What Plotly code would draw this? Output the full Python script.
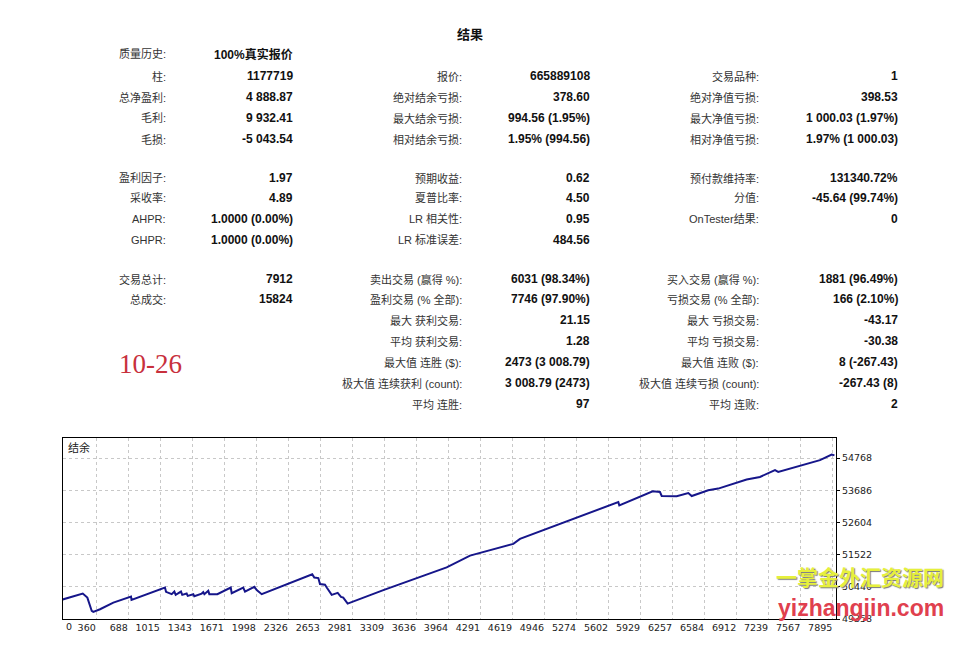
import plotly.graph_objects as go

# ---------------- data ----------------
trades = [0, 222, 269, 289, 314, 330, 399, 535, 716, 721, 1063, 1074, 1132, 1159, 1173,
          1227, 1240, 1285, 1296, 1353, 1363, 1439, 1455, 1466, 1506, 1517, 1599, 1736,
          1746, 1864, 1882, 1977, 2002, 2053, 2570, 2591, 2632, 2649, 2700, 2718, 2769,
          2830, 2864, 2887, 2932, 3297, 3621, 3945, 4184, 4627, 4695, 4968, 5275, 5582,
          5701, 5711, 5854, 6008, 6053, 6127, 6145, 6298, 6417, 6452, 6621, 6723, 7014,
          7150, 7304, 7337, 7526, 7764, 7884, 7912]
balance = [50000, 50213, 50078, 49865, 49628, 49595, 49686, 49909, 50112, 50000, 50416,
           50271, 50193, 50281, 50169, 50281, 50169, 50213, 50136, 50193, 50125, 50213,
           50261, 50193, 50305, 50193, 50193, 50416, 50227, 50416, 50281, 50440, 50328,
           50193, 50860, 50754, 50734, 50531, 50508, 50416, 50169, 50237, 50102, 50078,
           49875, 50328, 50700, 51092, 51488, 51884, 52053, 52391, 52783, 53145, 53290,
           53179, 53381, 53608, 53652, 53628, 53493, 53483, 53594, 53493, 53686, 53743,
           54047, 54135, 54362, 54304, 54473, 54700, 54889, 54860]

x_tick_vals = [360, 688, 1015, 1343, 1671, 1998, 2326, 2653, 2981, 3309, 3636, 3964,
               4291, 4619, 4946, 5274, 5602, 5929, 6257, 6584, 6912, 7239, 7567, 7895]
y_tick_vals = [49358, 50440, 51522, 52604, 53686, 54768]

title_text = "结果"
chart_label = "结余"
stamp_text = "10-26"

# statistics table: (label, value) per column, per row
col1_labels = ["质量历史:", "柱:", "总净盈利:", "毛利:", "毛损:", "",
               "盈利因子:", "采收率:", "AHPR:", "GHPR:", "",
               "交易总计:", "总成交:"]
col1_values = ["100%真实报价", "1177719", "4 888.87", "9 932.41", "-5 043.54", "",
               "1.97", "4.89", "1.0000 (0.00%)", "1.0000 (0.00%)", "",
               "7912", "15824"]
col2_labels = ["", "报价:", "绝对结余亏损:", "最大结余亏损:", "相对结余亏损:", "",
               "预期收益:", "夏普比率:", "LR 相关性:", "LR 标准误差:", "",
               "卖出交易 (赢得 %):", "盈利交易 (% 全部):", "最大 获利交易:", "平均 获利交易:",
               "最大值 连胜 ($):", "极大值 连续获利 (count):", "平均 连胜:"]
col2_values = ["", "665889108", "378.60", "994.56 (1.95%)", "1.95% (994.56)", "",
               "0.62", "4.50", "0.95", "484.56", "",
               "6031 (98.34%)", "7746 (97.90%)", "21.15", "1.28",
               "2473 (3 008.79)", "3 008.79 (2473)", "97"]
col3_labels = ["", "交易品种:", "绝对净值亏损:", "最大净值亏损:", "相对净值亏损:", "",
               "预付款维持率:", "分值:", "OnTester结果:", "", "",
               "买入交易 (赢得 %):", "亏损交易 (% 全部):", "最大 亏损交易:", "平均 亏损交易:",
               "最大值 连败 ($):", "极大值 连续亏损 (count):", "平均 连败:"]
col3_values = ["", "1", "398.53", "1 000.03 (1.97%)", "1.97% (1 000.03)", "",
               "131340.72%", "-45.64 (99.74%)", "0", "", "",
               "1881 (96.49%)", "166 (2.10%)", "-43.17", "-30.38",
               "8 (-267.43)", "-267.43 (8)", "2"]

# ---------------- layout geometry (pixels) ----------------
W, H = 963, 660
PL, PR, PT, PB = 63, 836, 438, 619


def px(x):
    return (x - PL) / (PR - PL)


def py(y):
    return (PB - y) / (PB - PT)


row_y = [54, 76, 97, 118, 139, 158, 178, 198, 219, 240, 259, 279, 299, 320, 341, 362, 383, 404]

label_font = dict(family="Liberation Sans, Noto Sans CJK SC", size=11, color="#333333")
value_font = dict(family="Liberation Sans, Noto Sans CJK SC", size=12, color="#111111", weight="bold")
axis_font = dict(family="DejaVu Sans", size=9.5, color="#222222")

annotations = []


def add_text(x, y, text, font, anchor="right"):
    if not text:
        return
    annotations.append(dict(x=px(x), y=py(y), xref="paper", yref="paper", text=text,
                            showarrow=False, xanchor=anchor, yanchor="middle", font=font))


for i, t in enumerate(col1_labels):
    add_text(168, row_y[i], t, label_font)
for i, t in enumerate(col1_values):
    add_text(295, row_y[i], t, value_font)
for i, t in enumerate(col2_labels):
    add_text(464, row_y[i], t, label_font)
for i, t in enumerate(col2_values):
    add_text(592, row_y[i], t, value_font)
for i, t in enumerate(col3_labels):
    add_text(761, row_y[i], t, label_font)
for i, t in enumerate(col3_values):
    add_text(900, row_y[i], t, value_font)

# title
annotations.append(dict(x=px(470), y=py(33), xref="paper", yref="paper", text=title_text,
                        showarrow=False, xanchor="center", yanchor="middle",
                        font=dict(family="Noto Sans CJK SC", size=13, color="#111111", weight="bold")))
# red stamp
annotations.append(dict(x=px(117), y=py(364), xref="paper", yref="paper", text=stamp_text,
                        showarrow=False, xanchor="left", yanchor="middle",
                        font=dict(family="Liberation Serif", size=27, color="#c8303c")))
# chart label
annotations.append(dict(x=px(66), y=py(447), xref="paper", yref="paper", text=chart_label,
                        showarrow=False, xanchor="left", yanchor="middle",
                        font=dict(family="Noto Sans CJK SC", size=11, color="#222222")))
# "0" x label at left edge
annotations.append(dict(x=px(64), y=py(626), xref="paper", yref="paper", text="0",
                        showarrow=False, xanchor="left", yanchor="middle", font=axis_font))
# watermark
annotations.append(dict(x=px(860), y=py(576), xref="paper", yref="paper", text="一掌金外汇资源网",
                        showarrow=False, xanchor="center", yanchor="middle",
                        font=dict(family="Noto Sans CJK SC", size=21, color="#e6f03c", weight="bold",
                                  shadow="1px 1px 1px #777777")))
annotations.append(dict(x=px(861), y=py(608), xref="paper", yref="paper", text="yizhangjin.com",
                        showarrow=False, xanchor="center", yanchor="middle",
                        font=dict(family="Liberation Sans", size=23, color="#e0404e", weight="bold")))

fig = go.Figure()
fig.add_trace(go.Scatter(x=trades, y=balance, mode="lines",
                         line=dict(color="#16168a", width=2), hoverinfo="skip"))

fig.update_layout(
    width=W, height=H,
    margin=dict(l=PL, r=W - PR, t=PT, b=H - PB, pad=0),
    paper_bgcolor="white", plot_bgcolor="white",
    showlegend=False,
    annotations=annotations,
    xaxis=dict(range=[20, 7928], tickvals=x_tick_vals, ticktext=[str(v) for v in x_tick_vals],
               ticklabelposition="outside left", tickangle=0, showgrid=True, gridcolor="#c8c8c8",
               griddash="3px,3px", gridwidth=1, zeroline=False, showline=True,
               linecolor="black", linewidth=1, mirror=True, ticks="", ticklen=0,
               tickfont=axis_font),
    yaxis=dict(range=[49358, 55444], tickvals=y_tick_vals,
               ticktext=[str(v) for v in y_tick_vals], side="right",
               showgrid=True, gridcolor="#c8c8c8", griddash="3px,3px", gridwidth=1,
               zeroline=False, showline=True, linecolor="black", linewidth=1, mirror=True,
               ticks="outside", ticklen=3, tickcolor="black",
               tickfont=axis_font),
)

fig.write_html("out.html", config={"displayModeBar": False},
               post_script="document.body.style.margin='0';")
